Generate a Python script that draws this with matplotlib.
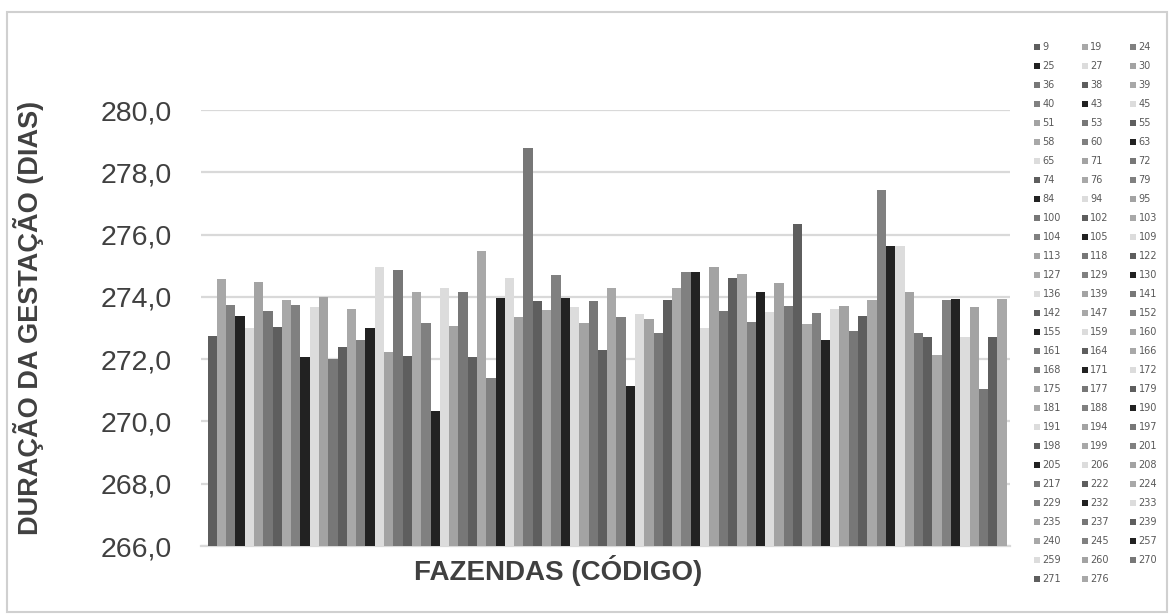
import matplotlib
matplotlib.use("Agg")
import matplotlib.pyplot as plt
from matplotlib.patches import Rectangle
import numpy as np

plt.rcParams['font.family'] = ['Liberation Sans', 'DejaVu Sans']

codes = ["9", "19", "24", "25", "27", "30", "36", "38", "39", "40", "43", "45",
         "51", "53", "55", "58", "60", "63", "65", "71", "72", "74", "76", "79",
         "84", "94", "95", "100", "102", "103", "104", "105", "109", "113", "118",
         "122", "127", "129", "130", "136", "139", "141", "142", "147", "152",
         "155", "159", "160", "161", "164", "166", "168", "171", "172", "175",
         "177", "179", "181", "188", "190", "191", "194", "197", "198", "199",
         "201", "205", "206", "208", "217", "222", "224", "229", "232", "233",
         "235", "237", "239", "240", "245", "257", "259", "260", "270", "271",
         "276"]

duracao = [272.74, 274.56, 273.74, 273.39, 273.01, 274.49, 273.56, 273.04,
           273.90, 273.74, 272.08, 273.66, 273.98, 272.00, 272.38, 273.62,
           272.61, 273.01, 274.95, 272.23, 274.87, 272.11, 274.17, 273.15,
           270.32, 274.28, 273.07, 274.17, 272.08, 275.48, 271.40, 273.97,
           274.60, 273.35, 278.79, 273.87, 273.59, 274.71, 273.97, 273.66,
           273.16, 273.87, 272.30, 274.30, 273.35, 271.15, 273.44, 273.29,
           272.85, 273.90, 274.30, 274.79, 274.79, 272.99, 274.95, 273.56,
           274.60, 274.75, 273.19, 274.14, 273.50, 274.44, 273.70, 276.34,
           273.13, 273.47, 272.61, 273.60, 273.70, 272.89, 273.39, 273.90,
           277.43, 275.64, 275.64, 274.17, 272.85, 272.72, 272.13, 273.90,
           273.93, 272.70, 273.66, 271.03, 272.72, 273.93]

yticks = [266, 268, 270, 272, 274, 276, 278, 280]
ytick_labels = ["266,0", "268,0", "270,0", "272,0", "274,0", "276,0", "278,0", "280,0"]

palette = ['#5e5e5e', '#a8a8a8', '#808080', '#222222', '#dcdcdc', '#a3a3a3', '#777777']

W, H = 1170, 614
fig = plt.figure(figsize=(W / 100, H / 100), dpi=100)
fig.patch.set_facecolor('white')

left, right, top, bottom = 201, 1010, 110, 546
ax = fig.add_axes([left / W, 1 - bottom / H, (right - left) / W, (bottom - top) / H])

x = np.arange(len(codes))
handles = []
for i, (c, v) in enumerate(zip(codes, duracao)):
    b = ax.bar(x[i], v - 266, bottom=266, width=1.0,
               color=palette[i % len(palette)], linewidth=0, zorder=3, label=c)
    handles.append(b)

ax.set_ylim(266, 280)
ax.set_xlim(-1.2, len(codes) - 0.5 + 0.35)
ax.set_yticks(yticks)
ax.set_yticklabels(ytick_labels, fontsize=20.5, color='#404040')
ax.set_xticks([])
ax.tick_params(axis='y', length=0, pad=21)
ax.grid(axis='y', color='#d9d9d9', linewidth=1.6, zorder=0)
for s in ['top', 'right', 'left']:
    ax.spines[s].set_visible(False)
ax.spines['bottom'].set_color('#d9d9d9')
ax.spines['bottom'].set_linewidth(1.6)

fig.text(29 / W, 1 - 318 / H, "DURAÇÃO DA GESTAÇÃO (DIAS)", rotation=90,
         fontsize=19.5, fontweight='bold', color='#404040', ha='center', va='center')
fig.text(558 / W, 1 - 571 / H, "FAZENDAS (CÓDIGO)",
         fontsize=20, fontweight='bold', color='#404040', ha='center', va='center')

# legend in row-major order like the original
order = [i for col in range(3) for i in range(col, len(codes), 3)]
leg = fig.legend([handles[i] for i in order], [codes[i] for i in order],
                 ncol=3, loc='upper left', bbox_to_anchor=(1034 / W, 1 - 42.5 / H),
                 frameon=False, fontsize=7, handlelength=0.62, handleheight=0.62,
                 handletextpad=0.25, columnspacing=2.15, labelspacing=0.925,
                 borderpad=0, borderaxespad=0)
for t in leg.get_texts():
    t.set_color('#595959')
    t.set_family(['DejaVu Sans'])

fig.add_artist(Rectangle((7 / W, 1 - 612 / H), (1167 - 7) / W, (612 - 12) / H,
                         transform=fig.transFigure, fill=False,
                         edgecolor='#d0d0d0', linewidth=1.5))

fig.savefig("out.png", dpi=100, facecolor='white')
